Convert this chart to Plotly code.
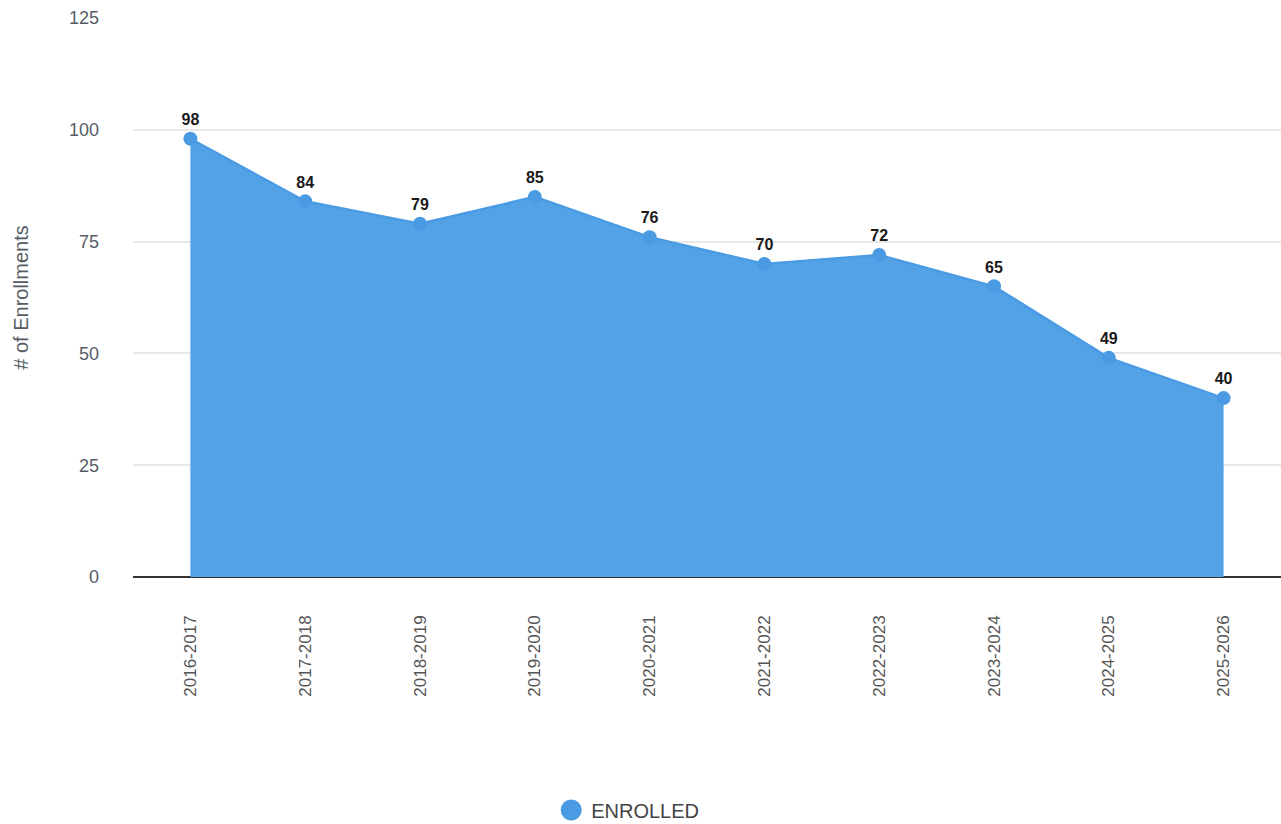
import plotly.graph_objects as go

# School years and enrollment counts
years = ["2016-2017", "2017-2018", "2018-2019", "2019-2020", "2020-2021",
         "2021-2022", "2022-2023", "2023-2024", "2024-2025", "2025-2026"]
enrolled = [98, 84, 79, 85, 76, 70, 72, 65, 49, 40]
y_ticks = [0, 25, 50, 75, 100, 125]

BLUE = "#53a2e6"
FONT = "Liberation Sans, Arial, sans-serif"

fig = go.Figure()

# Filled area with point markers and value labels
fig.add_trace(go.Scatter(
    x=years, y=enrolled,
    mode="lines+markers+text",
    fill="tozeroy",
    fillcolor=BLUE,
    line=dict(color="#4a9be3", width=2.5),
    marker=dict(color="#4a9be3", size=14),
    text=[str(v) for v in enrolled],
    textposition="top center",
    textfont=dict(family=FONT, size=16, color="#1a1a1a", weight="bold"),
    showlegend=False,
    cliponaxis=False,
))

# Legend entry
fig.add_trace(go.Scatter(
    x=[None], y=[None], mode="markers", name="ENROLLED",
    marker=dict(color="#4a9be3", size=16, line=dict(color="#4a9be3", width=5)),
))

fig.update_layout(
    width=1281, height=824,
    margin=dict(l=133, r=0, t=18, b=247),
    paper_bgcolor="white", plot_bgcolor="white",
    font=dict(family=FONT, size=17, color="#555555"),
    showlegend=True,
    legend=dict(orientation="h", xref="container", yref="container",
                x=0.49, xanchor="center", y=0.017, yanchor="middle",
                font=dict(family=FONT, size=20, color="#444444"),
                itemsizing="trace"),
    xaxis=dict(
        type="category", range=[-0.5, len(years) - 0.5],
        tickangle=-90, showgrid=False, showline=False, zeroline=False,
        ticks="", ticklabelstandoff=34,
        tickfont=dict(family=FONT, size=17, color="#555555"),
    ),
    yaxis=dict(
        range=[0, 125], tickvals=y_ticks,
        showgrid=True, gridcolor="#e8e8e8", gridwidth=1.5,
        zeroline=True, zerolinecolor="#333333", zerolinewidth=2,
        showline=False, ticks="", ticklabelstandoff=33,
        tickfont=dict(family=FONT, size=18, color="#555c66"),
        title=dict(text="# of Enrollments", standoff=34,
                   font=dict(family=FONT, size=20, color="#555c66")),
    ),
)

fig.write_html("out.html")
